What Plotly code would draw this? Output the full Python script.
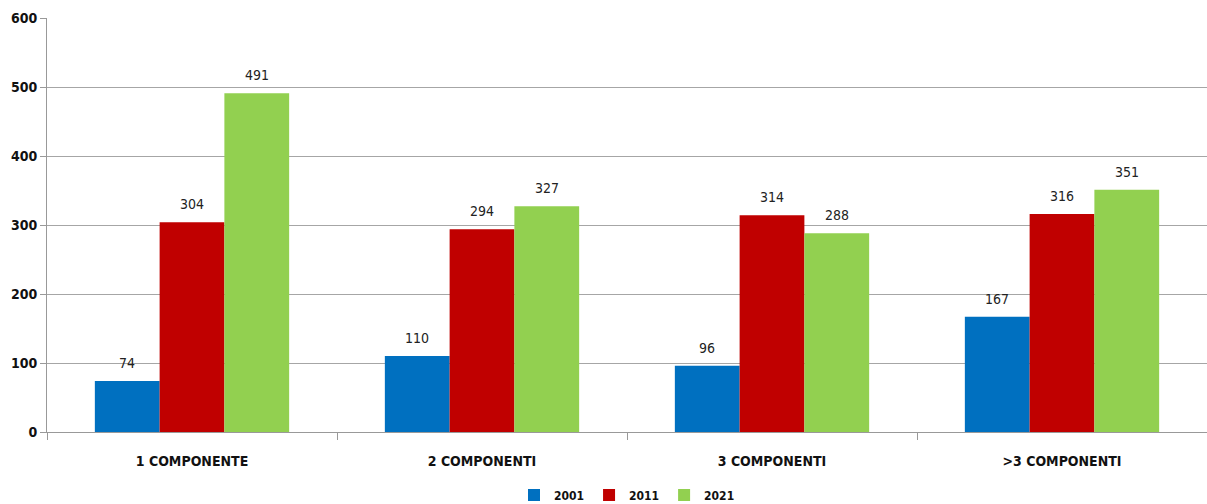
import plotly.graph_objects as go

categories = ["1 COMPONENTE", "2 COMPONENTI", "3 COMPONENTI", ">3 COMPONENTI"]
years = ["2001", "2011", "2021"]
v2001 = [74, 110, 96, 167]
v2011 = [304, 294, 314, 316]
v2021 = [491, 327, 288, 351]
colors = ["#0070C0", "#C00000", "#92D050"]
yticks = [0, 100, 200, 300, 400, 500, 600]

FONT = "DejaVu Sans Condensed, Liberation Sans Narrow, Arial Narrow, sans-serif"
series = [v2001, v2011, v2021]

fig = go.Figure()
for name, vals, col in zip(years, series, colors):
    fig.add_trace(go.Bar(
        x=categories, y=vals, name="<b>%s</b>" % name, marker_color=col,
        marker_line_width=0, offsetgroup=name,
    ))

n = len(series)
for i, vals in enumerate(series):
    for j, v in enumerate(vals):
        fig.add_annotation(
            x=j, y=v, xref="x", yref="y",
            text=str(v), showarrow=False, yanchor="bottom", yshift=8,
            xshift=(i - (n - 1) / 2) * 65,
            font=dict(family=FONT, size=14, color="#222"),
        )

fig.update_layout(
    width=1207, height=504,
    margin=dict(l=47, r=0, t=18, b=72, autoexpand=False),
    barmode="group", bargap=0.33, bargroupgap=0,
    plot_bgcolor="white", paper_bgcolor="white",
    font=dict(family=FONT, color="#111"),
    legend=dict(orientation="h", x=0.5, xanchor="center", yref="container",
                y=0.018, yanchor="middle",
                font=dict(family=FONT, size=12, color="#111"),
                itemwidth=30, traceorder="normal"),
    xaxis=dict(
        tickmode="array", tickvals=categories,
        ticktext=["<b>%s</b>" % c for c in categories],
        tickfont=dict(family=FONT, size=14, color="#111"),
        showline=True, linecolor="#999", linewidth=1,
        ticks="outside", tickson="boundaries", ticklen=7, tickcolor="#999",
        ticklabelstandoff=16,
        showgrid=False, automargin=False,
    ),
    yaxis=dict(
        range=[0, 600], tickvals=yticks,
        ticktext=["<b>%d</b>" % t for t in yticks],
        tickfont=dict(family=FONT, size=14, color="#111"),
        showgrid=True, gridcolor="#a6a6a6", gridwidth=1,
        showline=True, linecolor="#999", linewidth=1,
        ticks="outside", ticklen=6, tickcolor="#999",
        zeroline=False, automargin=False,
    ),
)

fig.write_html(
    "out.html",
    config={"displayModeBar": False},
    post_script="document.body.style.margin='0';document.body.style.overflow='hidden';",
)
